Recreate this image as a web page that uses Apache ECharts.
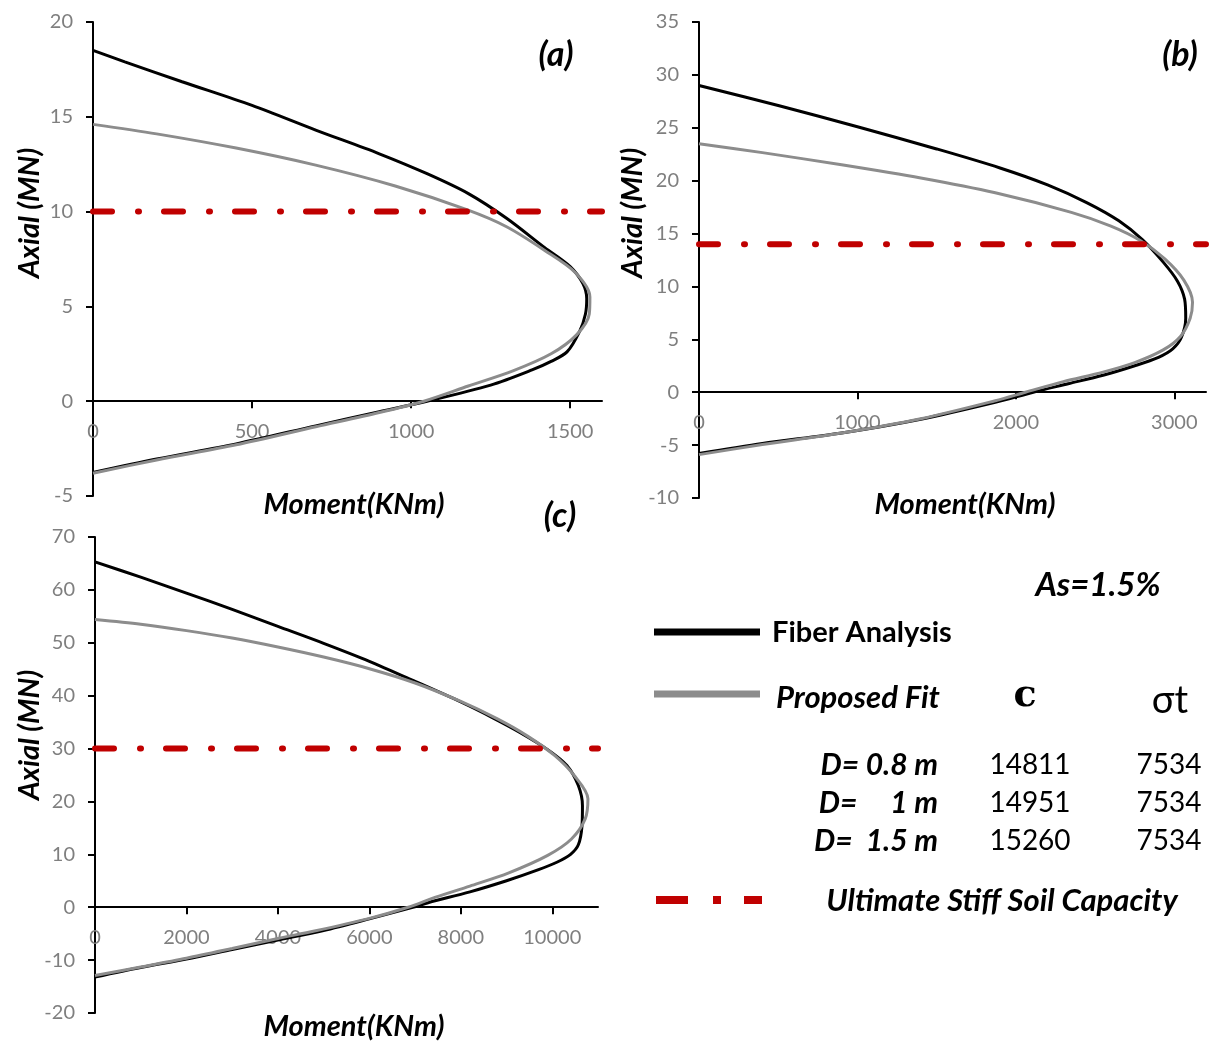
<!DOCTYPE html>
<html>
<head>
<meta charset="utf-8">
<script src="https://cdn.jsdelivr.net/npm/echarts@6/dist/echarts.min.js"></script>
<style>
html,body{margin:0;padding:0;background:#fff;}
#chart{width:1214px;height:1043px;}
</style>
</head>
<body>
<div id="chart"></div>
<script>
// ---- Panel (a) D = 0.8 m ----
var fiberA_M = [0, 100, 280, 500, 700, 900, 1050, 1180, 1300, 1420, 1500, 1540, 1552, 1548, 1530, 1490, 1440, 1380, 1250, 1050, 900, 700, 450, 200, 0];
var fiberA_P = [18.5, 17.9, 16.85, 15.6, 14.3, 13.05, 12.0, 10.95, 9.65, 8.1, 7.1, 6.2, 5.4, 4.6, 3.7, 2.6, 2.1, 1.65, 0.85, 0, -0.55, -1.3, -2.25, -3.05, -3.76];
var fitA_M = [0, 200, 450, 700, 950, 1175, 1300, 1420, 1515, 1562, 1560, 1520, 1440, 1320, 1180, 1040, 900, 700, 450, 200, 0];
var fitA_P = [14.6, 14.1, 13.35, 12.45, 11.35, 10.1, 9.2, 7.95, 6.8, 5.5, 4.6, 3.5, 2.5, 1.6, 0.8, 0, -0.6, -1.35, -2.3, -3.1, -3.8];
var capA = 10;

// ---- Panel (b) D = 1 m ----
var fiberB_M = [0, 500, 1000, 1500, 1900, 2200, 2450, 2650, 2800, 2930, 3020, 3065, 3072, 3045, 2990, 2900, 2750, 2550, 2330, 2110, 1870, 1400, 900, 400, 0];
var fiberB_P = [29.0, 27.1, 25.1, 23.0, 21.2, 19.6, 17.9, 16.2, 14.4, 12.3, 10.5, 8.8, 7.0, 5.2, 4.1, 3.3, 2.5, 1.6, 0.8, 0, -0.95, -2.55, -3.85, -4.85, -5.8];
var fitB_M = [0, 400, 900, 1400, 1870, 2350, 2600, 2790, 2940, 3060, 3115, 3100, 3040, 2930, 2750, 2550, 2300, 2060, 1870, 1400, 900, 400, 0];
var fitB_P = [23.5, 22.65, 21.5, 20.25, 18.85, 17.0, 15.7, 14.3, 12.6, 10.6, 8.5, 7.0, 5.3, 4.0, 2.8, 1.9, 1.0, 0, -0.8, -2.5, -3.85, -4.95, -5.9];
var capB = 14;

// ---- Panel (c) D = 1.5 m ----
var fiberC_M = [0, 1000, 2000, 3000, 4000, 5000, 6000, 7000, 8000, 8700, 9300, 9900, 10320, 10570, 10660, 10650, 10570, 10400, 10100, 9700, 9000, 8200, 7300, 6950, 6000, 5000, 4000, 3000, 2000, 1000, 0];
var fiberC_P = [65.3, 62.4, 59.4, 56.3, 53.1, 49.9, 46.5, 42.7, 38.8, 35.8, 33.0, 29.8, 26.8, 23.0, 19.2, 15.4, 11.8, 10.0, 8.5, 7.1, 5.0, 2.9, 0.9, 0, -2.2, -4.4, -6.2, -8.0, -9.8, -11.4, -13.2];
var fitC_M = [0, 1000, 2000, 3000, 4000, 5000, 6000, 7000, 8000, 8800, 9450, 10050, 10480, 10780, 10720, 10420, 9900, 9050, 8200, 7450, 6850, 6000, 4800, 4000, 3000, 2000, 1000, 0];
var fitC_P = [54.4, 53.5, 52.3, 50.9, 49.2, 47.3, 45.1, 42.4, 38.9, 35.6, 32.4, 28.7, 24.9, 20.5, 16.7, 12.9, 9.8, 6.5, 4.0, 1.9, 0, -2.1, -4.5, -5.9, -7.8, -9.65, -11.3, -12.9];
var capC = 30;

// ---- Axis ranges / ticks ----
var xMax = [1600, 3200, 11000];
var xTicks = [[0, 500, 1000, 1500], [0, 1000, 2000, 3000], [0, 2000, 4000, 6000, 8000, 10000]];
var yMin = [-5, -10, -20];
var yMax = [20, 35, 70];
var yStep = [5, 5, 10];

// ---- Legend table ----
var tableRows = ['D= 0.8 m', 'D=     1 m', 'D=  1.5 m'];
var tableC = ['14811', '14951', '15260'];
var tableSigma = ['7534', '7534', '7534'];

function zip(a, b) { return a.map(function (v, i) { return [v, b[i]]; }); }

var FONT = 'Lato';
var GRAY = '#8c8c8c';
var RED = '#C00000';
var LABEL_GRAY = '#7f7f7f';

var grids = [
  { left: 93, top: 22, width: 509, height: 474 },
  { left: 699, top: 22, width: 507, height: 476 },
  { left: 95, top: 537, width: 503, height: 476 }
];

var xAxes = [], yAxes = [], series = [];
var fibers = [[fiberA_M, fiberA_P], [fiberB_M, fiberB_P], [fiberC_M, fiberC_P]];
var fits = [[fitA_M, fitA_P], [fitB_M, fitB_P], [fitC_M, fitC_P]];
var caps = [capA, capB, capC];

for (var i = 0; i < 3; i++) {
  // move the x axis up to the P = 0 line
  var zeroOffset = -grids[i].height * (0 - yMin[i]) / (yMax[i] - yMin[i]);
  xAxes.push({
    type: 'value', gridIndex: i, min: 0, max: xMax[i], position: 'bottom', offset: zeroOffset,
    axisLine: { onZero: false, lineStyle: { color: '#000', width: 2 } },
    axisTick: { show: true, length: 7, lineStyle: { color: '#000', width: 2 }, customValues: xTicks[i] },
    axisLabel: { color: LABEL_GRAY, fontSize: 20, fontFamily: FONT, margin: 20, customValues: xTicks[i],
      formatter: function (v) { return String(v); } },
    splitLine: { show: false }
  });
  yAxes.push({
    type: 'value', gridIndex: i, min: yMin[i], max: yMax[i], interval: yStep[i],
    axisLine: { show: true, onZero: false, lineStyle: { color: '#000', width: 2 } },
    axisTick: { show: true, length: 7, lineStyle: { color: '#000', width: 2 } },
    axisLabel: { color: LABEL_GRAY, fontSize: 20, fontFamily: FONT, margin: 20 },
    splitLine: { show: false }
  });
  series.push({
    type: 'line', xAxisIndex: i, yAxisIndex: i, name: 'Fiber Analysis',
    data: zip(fibers[i][0], fibers[i][1]), smooth: 0.3, showSymbol: false,
    lineStyle: { color: '#000', width: 3 }, z: 3
  });
  series.push({
    type: 'line', xAxisIndex: i, yAxisIndex: i, name: 'Proposed Fit',
    data: zip(fits[i][0], fits[i][1]), smooth: 0.3, showSymbol: false,
    lineStyle: { color: GRAY, width: 3 }, z: 4
  });
  series.push({
    type: 'line', xAxisIndex: i, yAxisIndex: i, name: 'Ultimate Stiff Soil Capacity',
    data: [[0, caps[i]], [xMax[i], caps[i]]], showSymbol: false,
    lineStyle: { color: RED, width: 6, type: [19, 26, 1, 25], cap: 'round' }, z: 5
  });
}

function txt(x, y, text, opts) {
  opts = opts || {};
  return {
    type: 'text', x: x, y: y, rotation: opts.rotation || 0,
    style: {
      text: text, fill: opts.color || '#000',
      font: (opts.italic ? 'italic ' : '') + (opts.bold ? 'bold ' : '') + (opts.size || 24) + 'px ' + (opts.family || FONT),
      textAlign: opts.align || 'left', textVerticalAlign: 'middle'
    }
  };
}

var graphics = [];
// panel titles
graphics.push(txt(556, 55, '(a)', { bold: true, italic: true, size: 34, align: 'center' }));
graphics.push(txt(1180, 55, '(b)', { bold: true, italic: true, size: 34, align: 'center' }));
graphics.push(txt(560, 516, '(c)', { bold: true, italic: true, size: 34, align: 'center' }));
// axis titles
graphics.push(txt(30, 213, 'Axial (MN)', { bold: true, italic: true, size: 29, align: 'center', rotation: Math.PI / 2 }));
graphics.push(txt(633, 213, 'Axial (MN)', { bold: true, italic: true, size: 29, align: 'center', rotation: Math.PI / 2 }));
graphics.push(txt(30, 735, 'Axial (MN)', { bold: true, italic: true, size: 29, align: 'center', rotation: Math.PI / 2 }));
graphics.push(txt(354, 505, 'Moment(KNm)', { bold: true, italic: true, size: 29, align: 'center' }));
graphics.push(txt(965, 505, 'Moment(KNm)', { bold: true, italic: true, size: 29, align: 'center' }));
graphics.push(txt(354, 1027, 'Moment(KNm)', { bold: true, italic: true, size: 29, align: 'center' }));
// legend
graphics.push(txt(1098, 585, 'As=1.5%', { bold: true, italic: true, size: 33, align: 'center' }));
graphics.push({ type: 'line', shape: { x1: 654, y1: 632, x2: 760, y2: 632 }, style: { stroke: '#000', lineWidth: 7 } });
graphics.push(txt(772, 633, 'Fiber Analysis', { bold: true, size: 29 }));
graphics.push({ type: 'line', shape: { x1: 654, y1: 694, x2: 760, y2: 694 }, style: { stroke: GRAY, lineWidth: 7 } });
graphics.push(txt(776, 698, 'Proposed Fit', { bold: true, italic: true, size: 31 }));
graphics.push(txt(1025, 696, 'c', { bold: true, size: 38, align: 'center', family: 'DejaVu Serif' }));
graphics.push(txt(1170, 701, 'σt', { size: 38, align: 'center' }));
for (var r = 0; r < 3; r++) {
  var yy = 765 + r * 38;
  graphics.push(txt(938, yy, tableRows[r], { bold: true, italic: true, size: 30, align: 'right' }));
  graphics.push(txt(1030, yy, tableC[r], { size: 28, align: 'center' }));
  graphics.push(txt(1169, yy, tableSigma[r], { size: 28, align: 'center' }));
}
graphics.push({ type: 'line', shape: { x1: 656, y1: 900, x2: 688, y2: 900 }, style: { stroke: RED, lineWidth: 8 } });
graphics.push({ type: 'line', shape: { x1: 713, y1: 900, x2: 721, y2: 900 }, style: { stroke: RED, lineWidth: 8 } });
graphics.push({ type: 'line', shape: { x1: 744, y1: 900, x2: 762, y2: 900 }, style: { stroke: RED, lineWidth: 8 } });
graphics.push(txt(1002, 901, 'Ultimate Stiff Soil Capacity', { bold: true, italic: true, size: 31, align: 'center' }));

var chart = echarts.init(document.getElementById('chart'), null, { renderer: 'canvas' });
chart.setOption({
  backgroundColor: '#fff',
  animation: false,
  textStyle: { fontFamily: FONT },
  grid: grids,
  xAxis: xAxes,
  yAxis: yAxes,
  series: series,
  graphic: graphics
});
</script>
</body>
</html>
